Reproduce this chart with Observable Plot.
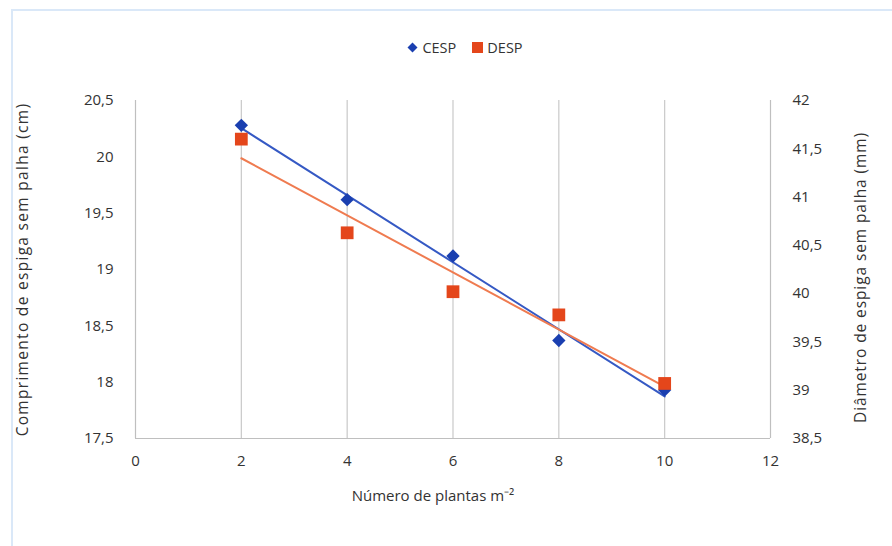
<!DOCTYPE html>
<html><head><meta charset="utf-8">
<script src="https://cdn.jsdelivr.net/npm/d3@7"></script>
<script src="https://cdn.jsdelivr.net/npm/@observablehq/plot@0.6"></script>
<style>
body{margin:0;background:#fff;font-family:"Open Sans",sans-serif;}
#wrap{position:relative;width:892px;height:546px;overflow:hidden;}
#border{position:absolute;left:11px;top:9px;width:900px;height:560px;border:2px solid #dae8f8;box-sizing:border-box;z-index:2;pointer-events:none;}
#legend{position:absolute;left:0;top:36px;width:892px;height:22px;display:flex;justify-content:center;align-items:center;gap:6px;font-size:14.5px;color:#333;padding-left:38px;box-sizing:border-box;z-index:1;}
#legend span{display:flex;align-items:center;gap:4px;}
#chart{position:absolute;left:0;top:0;}
</style></head>
<body>
<div id="wrap">
<div id="chart"></div>
<div id="legend"></div>
<div id="border"></div>
</div>
<script>
const densities = [2, 4, 6, 8, 10];
const cespValues = [20.28, 19.62, 19.12, 18.37, 17.93];
const despValues = [41.60, 40.63, 40.02, 39.78, 39.07];
const xTicks = [0, 2, 4, 6, 8, 10, 12];
const leftTicks = [17.5, 18, 18.5, 19, 19.5, 20, 20.5];
const rightTicks = [38.5, 39, 39.5, 40, 40.5, 41, 41.5, 42];
const seriesNames = ["CESP", "DESP"];
const yLeftTitle = "Comprimento de espiga sem palha (cm)";
const yRightTitle = "Diâmetro de espiga sem palha (mm)";
const xTitle = "Número de plantas m⁻²";
const colors = {CESP: "#1a3fb0", DESP: "#e4461b"};
const lineColors = {CESP: "#3559c4", DESP: "#ef7b50"};

// right axis (mm) mapped onto the left (cm) scale domain
const L0 = 17.5, L1 = 20.5, R0 = 38.5, R1 = 42;
const toLeft = v => L0 + (v - R0) * (L1 - L0) / (R1 - R0);
const toRight = v => R0 + (v - L0) * (R1 - R0) / (L1 - L0);
const fmt = v => String(+v.toFixed(2)).replace(".", ",");

const cesp = densities.map((x, i) => ({x, y: cespValues[i], s: "CESP"}));
const desp = densities.map((x, i) => ({x, y: toLeft(despValues[i]), s: "DESP"}));

// legend
const leg = document.getElementById("legend");
leg.innerHTML =
  `<span><svg width="11" height="11"><path d="M5.5 0.5 L10.5 5.5 L5.5 10.5 L0.5 5.5Z" fill="${colors.CESP}"/></svg>${seriesNames[0]}</span>` +
  `<span style="margin-left:10px"><svg width="11" height="11"><rect x="0" y="0" width="11" height="11" fill="${colors.DESP}"/></svg>${seriesNames[1]}</span>`;

const chart = Plot.plot({
  width: 892,
  height: 546,
  marginTop: 100,
  marginBottom: 108,
  marginLeft: 135,
  marginRight: 122,
  style: {fontFamily: "Open Sans, sans-serif", fontSize: "15px", color: "#333", background: "transparent"},
  x: {domain: [0, 12]},
  y: {domain: [L0, L1]},
  marks: [
    Plot.ruleX(densities, {stroke: "#c9c9c9", strokeWidth: 1.2}),
    Plot.ruleX([0, 12], {stroke: "#bfbfbf", strokeWidth: 1.2}),
    Plot.ruleY([L0], {stroke: "#bfbfbf", strokeWidth: 1.2}),
    Plot.axisX({ticks: xTicks, tickSize: 0, tickPadding: 17, label: null, tickFormat: d => String(d)}),
    Plot.axisY({ticks: leftTicks, tickSize: 0, tickPadding: 22, label: null, tickFormat: fmt}),
    Plot.axisY({anchor: "right", ticks: rightTicks.map(toLeft), tickSize: 0, tickPadding: 22, label: null, tickFormat: d => fmt(toRight(d))}),
    Plot.linearRegressionY(cesp, {x: "x", y: "y", ci: 0, stroke: lineColors.CESP, strokeWidth: 2}),
    Plot.linearRegressionY(desp, {x: "x", y: "y", ci: 0, stroke: lineColors.DESP, strokeWidth: 2}),
    Plot.dot(cesp, {x: "x", y: "y", symbol: "diamond2", r: 6, fill: colors.CESP, stroke: null}),
    Plot.dot(desp, {x: "x", y: "y", symbol: "square", r: 7.2, fill: colors.DESP, stroke: null}),
    Plot.text([yLeftTitle], {frameAnchor: "left", textAnchor: "middle", dx: -112, rotate: -90, fontSize: 15.5, fill: "#333", text: d => d}),
    Plot.text([yRightTitle], {frameAnchor: "right", textAnchor: "middle", dx: 91, dy: 8, rotate: -90, fontSize: 15.5, fill: "#333", text: d => d}),
    Plot.text([xTitle], {frameAnchor: "bottom", dy: 62, dx: -20, fontSize: 15, fill: "#333", text: d => d})
  ]
});
chart.querySelectorAll("text").forEach(t => {
  if (t.textContent === yLeftTitle) t.setAttribute("letter-spacing", "1.3");
  if (t.textContent === yRightTitle) t.setAttribute("letter-spacing", "0.9");
});
document.getElementById("chart").appendChild(chart);
</script>
</body></html>
